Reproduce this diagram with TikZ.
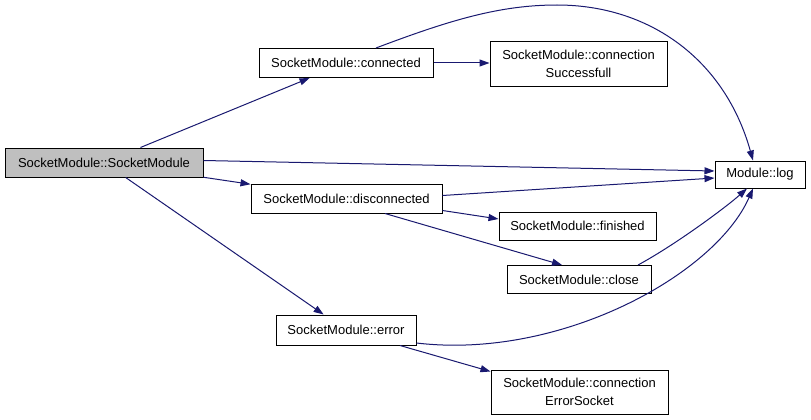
\documentclass[tikz,border=0pt]{standalone}
\usepackage{fontspec}
\setmainfont{Liberation Sans}
\usetikzlibrary{arrows.meta}
\definecolor{edgecol}{HTML}{191970}
\definecolor{rootfill}{HTML}{BFBFBF}
\begin{document}
\begin{tikzpicture}[x=1pt,y=-1pt,
  fn/.style={draw=black,line width=1pt,fill=white,inner sep=0pt,align=center,
    font=\fontsize{13}{18}\selectfont,minimum height=29pt},
  fn2/.style={fn,minimum height=45pt},
  call/.style={draw=edgecol,line width=1pt,-{Triangle[length=10pt,width=7pt]}}]
\useasboundingbox (0,0) rectangle (811,420);
\fill[white] (0,0) rectangle (811,420);
\node[fn,fill=rootfill,minimum width=198pt] (sm) at (104,162.5) {SocketModule::SocketModule};
\node[fn,minimum width=174pt] (conn) at (346,63) {SocketModule::connected};
\node[fn2,minimum width=177pt] (succ) at (578.5,64) {SocketModule::connection\\Successfull};
\node[fn,minimum width=90pt,minimum height=27pt] (log) at (760,174.5) {Module::log};
\node[fn,minimum width=191pt] (disc) at (346.5,198.5) {SocketModule::disconnected};
\node[fn,minimum width=157pt,minimum height=28pt] (fin) at (577.5,226) {SocketModule::finished};
\node[fn,minimum width=144pt,minimum height=28pt] (close) at (579,279.5) {SocketModule::close};
\node[fn,minimum width=140pt,minimum height=30pt] (err) at (346,330) {SocketModule::error};
\node[fn2,minimum width=177pt,minimum height=44pt] (errsock) at (579.5,392) {SocketModule::connection\\ErrorSocket};

\draw[call] (sm) -- (conn);
\draw[call] ([yshift=2pt]sm.east) -- ([yshift=3.5pt]log.west);
\draw[call] (sm) -- (disc);
\draw[call] (sm) -- (err);
\draw[call] (conn.east) -- (succ.west |- conn.east);
\draw[call] ([xshift=30pt]conn.north) .. controls (450,20) and (500,5) .. (557,5)
  .. controls (650,5) and (725,60) .. ([xshift=-7pt]log.north);
\draw[call] ([yshift=3pt]disc.east) -- ([yshift=-3.5pt]log.west);
\draw[call] ([yshift=3pt]disc.south east) -- ([yshift=7pt]fin.west);
\draw[call] ([xshift=38.5pt]disc.south) -- ([xshift=-17pt]close.north);
\draw[call] ([xshift=59pt]close.north) .. controls (675,245) and (725,208) .. ([xshift=-13pt]log.south);
\draw[call] ([yshift=-13pt]err.east) .. controls (560,360) and (715,275) .. ([xshift=-7pt]log.south);
\draw[call] ([xshift=54pt]err.south) -- ([yshift=-2pt]errsock.north west);
\end{tikzpicture}
\end{document}
